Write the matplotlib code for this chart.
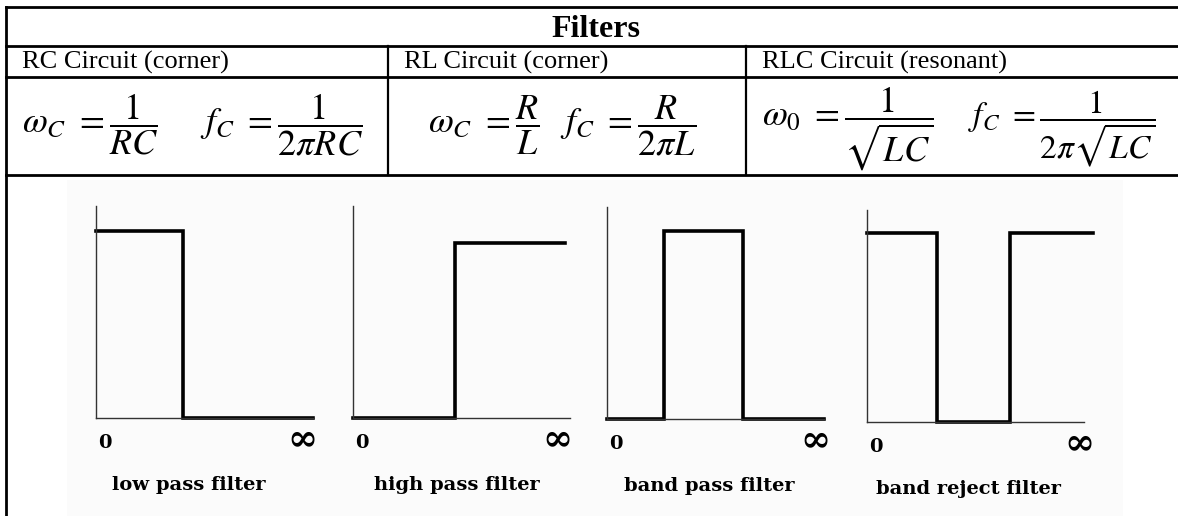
import matplotlib
matplotlib.use("Agg")
import matplotlib.pyplot as plt
from matplotlib.patches import Rectangle

# table text
title = "Filters"
headers = ["RC Circuit (corner)", "RL Circuit (corner)", "RLC Circuit (resonant)"]
omega_eq = [r"$\omega_C\ =\dfrac{1}{RC}$",
            r"$\omega_C\ =\dfrac{R}{L}$",
            r"$\omega_0\ =\dfrac{1}{\sqrt{LC}}$"]
freq_eq = [r"$f_C\ =\dfrac{1}{2\pi RC}$",
           r"$f_C\ =\dfrac{R}{2\pi L}$",
           r"$f_C\ = \dfrac{1}{2\pi\sqrt{LC}}$"]

# filter responses (frequency 0..inf mapped to 0..1, gain 0..1)
filter_names = ["low pass filter", "high pass filter", "band pass filter", "band reject filter"]
low_f = [0, 0.40, 0.40, 1.0]
low_g = [0.88, 0.88, 0, 0]
high_f = [0, 0.47, 0.47, 0.977]
high_g = [0, 0, 0.825, 0.825]
band_f = [0, 0.263, 0.263, 0.627, 0.627, 1.0]
band_g = [0, 0, 0.886, 0.886, 0, 0]
rej_f = [0, 0.323, 0.323, 0.659, 0.659, 1.04]
rej_g = [0.89, 0.89, 0, 0, 0.89, 0.89]

W, H = 1178, 516
fig = plt.figure(figsize=(W / 100, H / 100), dpi=100)
plt.rcParams['mathtext.fontset'] = 'stix'

# full figure axes in pixel units for the table
tab = fig.add_axes([0, 0, 1, 1])
tab.set_xlim(0, W)
tab.set_ylim(H, 0)
tab.axis('off')

tab.add_patch(Rectangle((67, 180), 1056, 340, color='#fbfbfb', lw=0))

lw = 2.0
x_left, x_right = 6, W + 5
col_x = [x_left, 388, 746, x_right]
for yy in [7, 46, 77, 175]:
    tab.plot([x_left, x_right], [yy, yy], color='black', lw=lw)
tab.plot([x_left, x_left], [7, H + 5], color='black', lw=lw)
for cx in col_x[1:3]:
    tab.plot([cx, cx], [46, 175], color='black', lw=1.6)

tab.text(596, 37, title, fontsize=23, fontweight='bold', family='Liberation Serif',
         ha='center', va='baseline')
for i, h in enumerate(headers):
    tab.text(col_x[i] + 16, 69, h, fontsize=19, family='Liberation Serif',
             ha='left', va='baseline')

omega_x = [22, 428, 762]
freq_x = [200, 560, 968]
eq_base = [133, 133, 126]
for i in range(3):
    tab.text(omega_x[i], eq_base[i], omega_eq[i], fontsize=26, ha='left', va='baseline')
    tab.text(freq_x[i], eq_base[i], freq_eq[i], fontsize=26 if i < 2 else 24,
             ha='left', va='baseline')

# filter panels
panel_x = [96, 353, 607, 867]
panel_base = [418, 418, 419, 422]
pw, ph = 217, 212
responses = [(low_f, low_g), (high_f, high_g), (band_f, band_g), (rej_f, rej_g)]
inf_x = [0.95, 0.94, 0.96, 0.98]
name_x = [0.43, 0.48, 0.47, 0.47]
label_font = dict(family='DejaVu Serif', fontweight='bold')

for i, (f, g) in enumerate(responses):
    ax = fig.add_axes([panel_x[i] / W, 1 - panel_base[i] / H, pw / W, ph / H])
    ax.set_xlim(0, 1)
    ax.set_ylim(0, 1)
    ax.patch.set_alpha(0)
    for s in ['top', 'right']:
        ax.spines[s].set_visible(False)
    for s in ['left', 'bottom']:
        ax.spines[s].set_linewidth(1.0)
        ax.spines[s].set_color('#333333')
    ax.set_xticks([])
    ax.set_yticks([])
    ax.plot(f, g, color='black', lw=2.6, clip_on=False, solid_joinstyle='miter')
    ax.text(0.01, -0.12, "0", transform=ax.transAxes, fontsize=14, ha='left', va='center', **label_font)
    ax.text(inf_x[i], -0.10, "\u221e", transform=ax.transAxes, fontsize=26, ha='center', va='center', **label_font)
    ax.text(name_x[i], -0.316, filter_names[i], transform=ax.transAxes, fontsize=14,
            ha='center', va='center', **label_font)

fig.savefig("out.png", dpi=100)
